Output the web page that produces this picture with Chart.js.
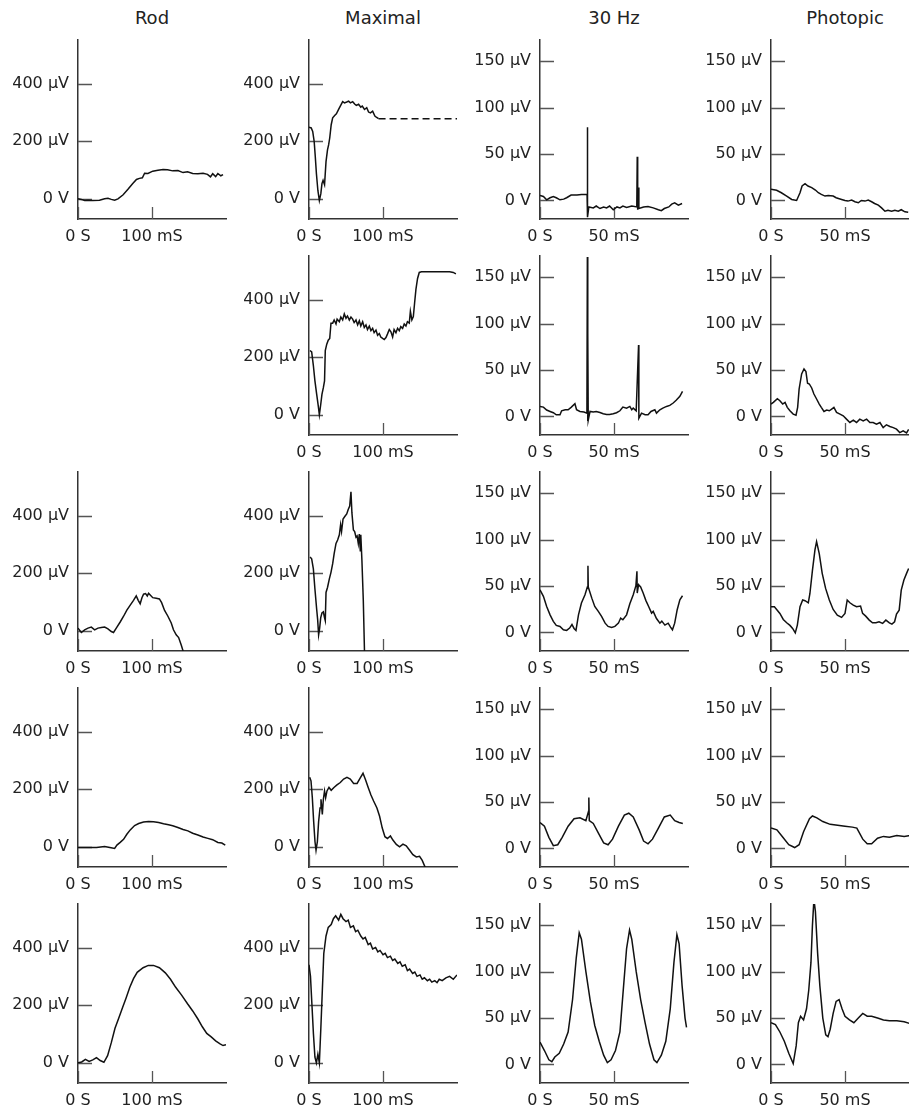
<!DOCTYPE html>
<html>
<head>
<meta charset="utf-8">
<script src="https://cdn.jsdelivr.net/npm/chart.js@4.4.0/dist/chart.umd.min.js"></script>
<style>
  html, body { margin: 0; padding: 0; background: #fff; overflow: hidden; }
  #wrap { position: relative; width: 909px; height: 1106px; overflow: hidden; }
  #wrap canvas { position: absolute; }
  .ttl { position: absolute; top: 7px; width: 150px; text-align: center;
         font: 18px "DejaVu Sans", sans-serif; color: #222; }
</style>
</head>
<body>
<div id="wrap"></div>
<script>
// column headings and axis ticks
const columns = ['Rod', 'Maximal', '30 Hz', 'Photopic'];
const slowTimeTicks = [0, 100];      // ms, Rod + Maximal
const fastTimeTicks = [0, 50];       // ms, 30 Hz + Photopic
const slowVoltTicks = [0, 200, 400]; // µV
const fastVoltTicks = [0, 50, 100, 150];

// traces: [time ms, amplitude µV]
const rod1 = [[0,0],[4.5,-2],[9,-6],[13.5,-5],[20,-6],[29,-5],[36,0],[40.5,2],[45,-2],[49.5,-5],[54,0],[61,14],[67.5,33],[74,53],[79,67],[83,71],[87,73],[90,89],[94.5,88],[101,96],[108,99],[115,102],[121,101],[128,97],[135,98],[142,91],[148,94],[155,88],[162,87],[169,89],[175,85],[179,76],[182,87],[186,77],[189,88],[193,80],[196,84]];
const max1 = [[0,248],[3,246],[5,234],[7,199],[8.5,146],[10,88],[12,29],[14,-6],[16,18],[17.5,53],[19,64],[21,49],[23,129],[25,170],[26.5,187],[28,211],[30,257],[32,281],[35,290],[37,295],[40,310],[43,325],[45.5,337],[48,333],[51,336],[53.5,339],[56,333],[59,337],[62,328],[64,324],[67,328],[70,318],[72,322],[75,310],[78,316],[80.5,301],[83,298],[86,304],[89,287],[91,283],[94,278]];
const max1Hold = [[94,278],[200,278]];
const hz1 = [[0,5.4],[2.3,4.3],[4.5,0.7],[6.8,2.9],[9,4.3],[11,2.9],[13.5,0.7],[16,1.4],[18,2.9],[21,5.8],[25,5.8],[28,6.5],[31.8,6.5],[32,79],[32.2,-18],[33,-7],[36,-8],[38,-6],[40.5,-8.7],[43,-7],[45,-8],[47,-6],[49.5,-10],[52,-7],[54,-8],[56,-6],[58.5,-7.6],[62,-6],[65.4,-7],[65.7,47],[66,-10],[66.4,14],[66.8,-8.7],[70,-7],[73,-6.5],[76.5,-8],[80,-10],[82,-11],[84,-8.7],[87,-7],[89,-4],[91,-2.5],[93.5,-5],[96,-3.3]];
const pho1 = [[0,12],[3.8,10.9],[7,8.3],[10.6,4.7],[14,1.1],[17.3,0],[19.6,8.3],[21,15.6],[23,18],[25,15.6],[27.5,13.8],[30,11.2],[32,8.3],[34,6.5],[36.5,4.7],[38.7,5.4],[42,4.7],[44,2.9],[47.7,1.1],[50,0],[52,-0.7],[54.5,0.4],[56.7,-1.4],[59,-2.5],[61,0],[63.5,-0.7],[65.7,0.4],[68,-1.4],[70,-3.3],[72.5,-5],[74.7,-8],[77,-11.6],[79,-10.5],[81.5,-11.6],[83.7,-10.5],[86,-11.6],[88,-10],[90.5,-12.3],[92.7,-12.7]];

const max2 = [[1.3,223],[3.6,218],[5.9,171],[8,118],[10.4,71],[12.6,29],[14,0],[15.8,35],[17.5,71],[19.4,94],[21,118],[22,223],[24,245],[26,259],[28,265],[29.7,318],[32,318],[34,329],[36.5,315],[38,332],[41,323],[43,339],[45.5,329],[47.7,350],[50,335],[52,343],[54.5,329],[56.7,339],[59,332],[61,320],[63.5,329],[65.7,312],[68,326],[70,308],[72.5,323],[74.7,303],[77,312],[79,296],[81.5,308],[83.7,292],[86,300],[88,285],[90.5,294],[92.7,276],[95,282],[97,270],[99.5,265],[101.7,261],[104,268],[106,280],[108.5,296],[110.7,288],[113,270],[115,296],[117.5,285],[119.7,300],[122,292],[124,306],[126.5,300],[128.7,315],[131,308],[133,323],[135.5,318],[137,359],[139,329],[141,341],[142.7,388],[144.5,435],[146.7,473],[149,494],[152,496],[163,496],[177,496],[190,496],[195,494],[198.5,489]];
const hz2 = [[0,10.8],[2.3,10.1],[4.5,6.9],[6.8,5.4],[9,4],[11,1.8],[13.5,1.8],[14.6,6.1],[17,7.2],[19,7.2],[21,9.8],[23.6,13.7],[24.7,7.2],[27,5.4],[29.7,4.7],[31.7,3.6],[32,172],[32.15,-5],[32.4,90],[32.6,-4],[33.8,5.4],[36,4.7],[38,5.4],[40.5,4.3],[42.7,2.9],[45,2.2],[47,2.2],[49.5,2.9],[51.7,4],[54,6.1],[56,10.1],[58.5,9],[60.7,10.8],[62,7.2],[63,9],[65,6.1],[66.6,77],[66.8,-1.8],[68.6,3.6],[71,1.8],[73,1.8],[75,5.4],[77.6,7.2],[78.7,3.6],[81,7.2],[83,9],[85.5,10.8],[87.7,11.9],[90,14.5],[92,17.4],[94.5,21.7],[96.3,27]];
const pho2 = [[0,13.4],[1.6,15.2],[4.3,19.2],[6,17],[7.9,13.4],[9.5,15.2],[11,9.8],[12.8,6.1],[15,2.5],[16.9,1.4],[18,9.8],[19,29.6],[20.7,45.9],[22.3,51.3],[23.6,48.4],[24.7,35.8],[25.9,35],[27.5,30.7],[29,24.2],[30.8,18.8],[32.6,13.4],[34,9.8],[35.8,5.4],[37.6,6.9],[39.4,6.1],[41,8],[42.5,9.8],[44.3,4.3],[46.6,2.5],[48.8,0.7],[51,-2.9],[53.3,-6.5],[55.6,-4],[57.8,-6.5],[60,-2.9],[62.3,-4.7],[64.6,-2.9],[66.8,-6.5],[69,-6.5],[71.3,-8.3],[73.6,-6.5],[75.8,-12],[78,-9],[80.3,-10.8],[82.6,-12],[84.8,-13.7],[87,-17.4],[89.3,-15.5],[91.6,-17.7],[93,-14]];

const rod3 = [[0,9.4],[4.5,-5.9],[9,3.5],[13.5,9.4],[18,12.9],[22.5,3.5],[27,9.4],[31.5,11.8],[36,12.9],[40.5,7],[45,-2.4],[48,-5.9],[52.6,12.9],[57,30.6],[61.6,50.6],[66,71.7],[70.6,89.4],[75,105.8],[78.7,121],[81.4,105.8],[84,94],[86.4,115],[88.6,127],[91.3,129],[93.6,121],[95.4,130.5],[97.6,124.6],[101,115],[105.7,113],[110,110.5],[113,97.6],[117,70.6],[121.5,50.6],[126,27],[129,3.5],[132.7,-14],[136,-23.5],[139.5,-49],[142.6,-75]];
const max3 = [[1.4,256],[3.6,250],[5.9,215],[8,145],[10.4,74],[11.7,39],[13,-14],[14.4,9.4],[15.8,44.7],[17.5,62],[19.4,66],[21,44.7],[22,35],[23,133],[25,150.5],[27.5,180],[29.7,203],[32,233],[34,268],[36.5,303],[38.7,315],[41,333],[42.7,368],[44,344.5],[46,388],[48.6,397.5],[51,405.7],[53,421],[55,433],[56.7,482],[58,409],[60,350],[61.7,344.5],[63.5,324.6],[65,329],[66.6,303],[68,336],[69.3,277.5],[70,333],[71.5,244.6],[73.4,103.5],[75,-73]];
const hz3 = [[0,46],[2.3,38.9],[4.5,28],[6.8,19],[9,11.9],[11,7.6],[13.5,6.5],[15.8,2.9],[18,2.2],[20,4.7],[21.6,8.6],[23,4.3],[24.3,2.2],[26,19],[28,31.7],[30.4,40.7],[32,49],[32.4,72],[32.6,49],[35,37],[37,28],[39.4,22.7],[41.6,17.3],[44,10],[46,6.5],[48.4,5.4],[50.6,6.5],[53,10],[54.5,15.5],[56,13.7],[58.5,19],[60.7,31],[63,40.7],[64.8,50.4],[65.5,66],[65.7,42.5],[66.6,51.5],[68,49],[69.7,42.5],[71.5,34.6],[73.4,28],[75.4,20.9],[76.5,22.7],[78.7,15],[81,10],[82.3,12.2],[84.4,7.9],[86.6,10],[88.2,5.8],[89.5,2.9],[91,10],[92.7,24.5],[94.5,35.3],[96.3,39.6]];
const pho3 = [[0,27.7],[2.3,27.7],[3.8,24.8],[6,20.5],[8.3,14],[10.6,10.4],[12.8,7.6],[14.6,4.3],[16.4,-0.4],[17.8,7.9],[19.6,27.7],[21.4,35],[23,34.2],[25.2,32],[26.3,42],[28,67],[29.7,89],[30.8,98],[32.6,85],[34.6,63.7],[36.9,47.5],[39.4,35],[42,24.8],[44.8,18.7],[47.7,16.2],[50,20.5],[51.5,35],[53.3,32],[55.6,29.5],[57.8,27.7],[60.5,28.4],[61.9,20.5],[64,17.6],[66.4,13.3],[68.6,10.4],[70.9,10.4],[73,11.5],[75.4,9.7],[77.6,13.3],[80,10.4],[81.7,9],[83.5,11.5],[84.8,19.8],[86.6,24],[88,45.7],[89.8,56.5],[91.6,63.7],[93,69]];

const rod4 = [[0,-2.4],[11,-2.4],[25,-2.4],[36,1.2],[43,-2.4],[49.5,-5.9],[52.6,5.9],[57,15.3],[61.6,26],[66,43.5],[70.6,58.8],[76.5,74],[82,81],[88.6,86],[95.4,88],[102,87],[109,84.7],[115.6,80],[122.4,76.4],[128,73],[135,67],[142,60],[148.5,55.3],[155,47],[162,41],[169,34],[175.5,29.4],[182,24.7],[189,15.3],[194.4,13],[199,5.9]];
const max4 = [[0.9,241],[2.7,229],[4.5,170.5],[6.3,88],[8.1,17.6],[9.5,-11.8],[11.3,17.6],[13,88],[14.9,135],[16.2,165],[18,112],[19.4,165],[21,194],[22.5,170.5],[24.3,194],[27,206],[30,196],[33.7,206],[37.8,215],[42.3,223],[46.8,235],[51.3,241],[55.8,235],[60.3,220],[65,220],[69.3,239],[73,255],[76.5,232],[80,206],[83.7,180],[87.3,159],[91.8,135],[95.4,106],[99,65],[102.6,35],[106,29],[110,37.6],[113.4,23.5],[118,8.2],[122.4,0],[127,9.4],[131.4,3.5],[136,-11.8],[140.4,-27],[145,-35],[149.4,-33],[153,-47],[157.5,-74]];
const hz4 = [[0,28],[3,24],[6,12],[9,3],[12,4],[15,12],[19,24],[23,32],[27,33],[31,30],[32.8,40],[33,55],[33.3,30],[36,27],[40,15],[43,6],[46,4],[49,10],[53,24],[57,36],[60,38],[63,34],[67,20],[70,8],[73,5],[76,10],[80,22],[84,34],[88,36],[91,30],[94,28],[96.5,27]];
const pho4 = [[0,22],[4,20],[8,12],[12,4],[16,1],[19,4],[22,18],[26,32],[28,35],[31,33],[35,29],[40,26],[45,25],[50,24],[55,23],[58,22],[62,10],[65,5],[68,5],[72,11],[76,13],[80,12],[85,14],[90,13],[94,14]];

const rod5 = [[0,0],[5,3],[10,12],[15,5],[20,10],[25,18],[30,8],[35,2],[40,25],[45,70],[50,120],[55,155],[60,190],[65,225],[70,262],[75,292],[80,314],[88,330],[95,338],[102,338],[110,330],[118,312],[125,290],[132,262],[140,235],[148,205],[155,180],[162,152],[168,125],[174,102],[180,90],[186,76],[192,66],[196,60],[200,63]];
const max5 = [[0,340],[2,300],[4,200],[6,100],[8,20],[10,0],[12,30],[14,0],[16,120],[18,250],[20,380],[23,440],[26,470],[30,480],[33,500],[36,510],[40,495],[43,515],[46,500],[50,490],[53,495],[56,470],[60,475],[63,455],[66,460],[70,440],[73,430],[76,435],[80,410],[83,415],[86,395],[90,400],[93,385],[96,390],[100,375],[103,380],[106,365],[110,370],[113,355],[116,360],[120,345],[123,350],[126,335],[130,340],[133,320],[136,325],[140,310],[143,315],[146,300],[150,305],[153,290],[156,295],[160,285],[163,290],[166,280],[170,285],[173,278],[176,290],[180,285],[185,295],[190,300],[195,290],[200,305]];
const hz5 = [[0,24],[3,15],[6,5],[8,3],[10,8],[13,12],[16,22],[19,35],[22,70],[24.5,115],[26.5,142],[28,135],[31,100],[34,68],[37,42],[40,25],[43,10],[45.5,2],[48,5],[51,15],[54,35],[56,75],[58.5,125],[60.5,145],[62,135],[65,100],[68,70],[71,45],[74,22],[77,5],[79,2],[82,10],[85,25],[88,60],[90.5,110],[92.5,140],[94,130],[96,85],[98,50],[99,40]];
const pho5 = [[0,45],[3,43],[6,35],[9,25],[12,12],[15,1],[17,20],[18.5,45],[20,52],[22,48],[24,60],[25.5,80],[27,110],[28,150],[29,178],[30,165],[31.5,120],[33,85],[35,50],[37,32],[38.5,30],[40,38],[42,55],[44,68],[46,70],[48,60],[50,52],[53,48],[56,45],[59,50],[62,55],[65,52],[68,52],[72,50],[76,48],[80,47],[85,47],[90,46],[94,44]];

// grid of panels: rows x columns (null = empty cell)
const grid = [
  [rod1, max1, hz1, pho1],
  [null, max2, hz2, pho2],
  [rod3, max3, hz3, pho3],
  [rod4, max4, hz4, pho4],
  [rod5, max5, hz5, pho5]
];

const colX = [78, 309, 540, 771];   // y-axis line position per column
const rowTop = [40, 256, 472, 688, 904];
const FONT = '"DejaVu Sans", sans-serif';

// short tick marks drawn inside the plot area
const innerTicks = {
  id: 'innerTicks',
  beforeDatasetsDraw(chart) {
    const { ctx, chartArea: a, scales: { x, y } } = chart;
    ctx.save();
    ctx.strokeStyle = '#555';
    ctx.lineWidth = 1.3;
    ctx.beginPath();
    y.ticks.forEach(t => {
      const py = Math.round(y.getPixelForValue(t.value)) + 0.5;
      ctx.moveTo(a.left, py);
      ctx.lineTo(a.left + 14, py);
    });
    x.ticks.forEach(t => {
      const px = Math.round(x.getPixelForValue(t.value)) + 0.5;
      ctx.moveTo(px, a.bottom);
      ctx.lineTo(px, a.bottom - 12);
    });
    ctx.stroke();
    ctx.restore();
  }
};

const wrap = document.getElementById('wrap');

columns.forEach((name, c) => {
  const d = document.createElement('div');
  d.className = 'ttl';
  d.style.left = (colX[c] - 1) + 'px';
  d.textContent = name;
  wrap.appendChild(d);
});

function makePanel(r, c, trace) {
  const slow = c < 2;
  const tTicks = slow ? slowTimeTicks : fastTimeTicks;
  const vTicks = slow ? slowVoltTicks : fastVoltTicks;

  const cv = document.createElement('canvas');
  cv.width = 225;
  cv.height = 213;
  cv.style.left = (colX[c] - 75) + 'px';
  cv.style.top = (rowTop[r] - 6) + 'px';
  wrap.appendChild(cv);

  const datasets = [{
    data: trace.map(([x, y]) => ({ x, y })),
    borderColor: '#111',
    borderWidth: 1.5,
    pointRadius: 0,
    tension: 0,
    fill: false
  }];
  if (trace === max1) {
    datasets.push({
      data: max1Hold.map(([x, y]) => ({ x, y })),
      borderColor: '#111',
      borderWidth: 1.5,
      borderDash: [7, 4],
      pointRadius: 0,
      fill: false
    });
  }

  new Chart(cv.getContext('2d'), {
    type: 'line',
    data: { datasets },
    options: {
      responsive: false,
      animation: false,
      devicePixelRatio: 1,
      events: [],
      layout: { autoPadding: false, padding: { top: 6, right: 2, bottom: 0, left: 0 } },
      plugins: { legend: { display: false }, tooltip: { enabled: false } },
      scales: {
        x: {
          type: 'linear',
          min: 0,
          max: slow ? 200 : 100,
          afterBuildTicks: s => { s.ticks = tTicks.map(v => ({ value: v })); },
          afterFit: s => { s.height = 28; s.paddingLeft = 0; s.paddingRight = 0; },
          grid: { display: false, drawTicks: false },
          border: { display: true, color: '#333', width: 1.5 },
          ticks: {
            padding: 8,
            maxRotation: 0,
            color: '#222',
            font: { family: FONT, size: 16 },
            callback: v => v === 0 ? '0 S' : v + ' mS'
          }
        },
        y: {
          type: 'linear',
          min: slow ? -70 : -20,
          max: slow ? 551 : 173,
          afterBuildTicks: s => { s.ticks = vTicks.map(v => ({ value: v })); },
          afterFit: s => { s.width = 75; s.paddingTop = 0; s.paddingBottom = 0; },
          grid: { display: false, drawTicks: false },
          border: { display: true, color: '#333', width: 1.5 },
          ticks: {
            padding: 9,
            color: '#222',
            font: { family: FONT, size: 16 },
            callback: v => v === 0 ? '0 V' : v + ' \u00b5V'
          }
        }
      }
    },
    plugins: [innerTicks]
  });
}

grid.forEach((row, r) => row.forEach((trace, c) => {
  if (trace) makePanel(r, c, trace);
}));
</script>
</body>
</html>
